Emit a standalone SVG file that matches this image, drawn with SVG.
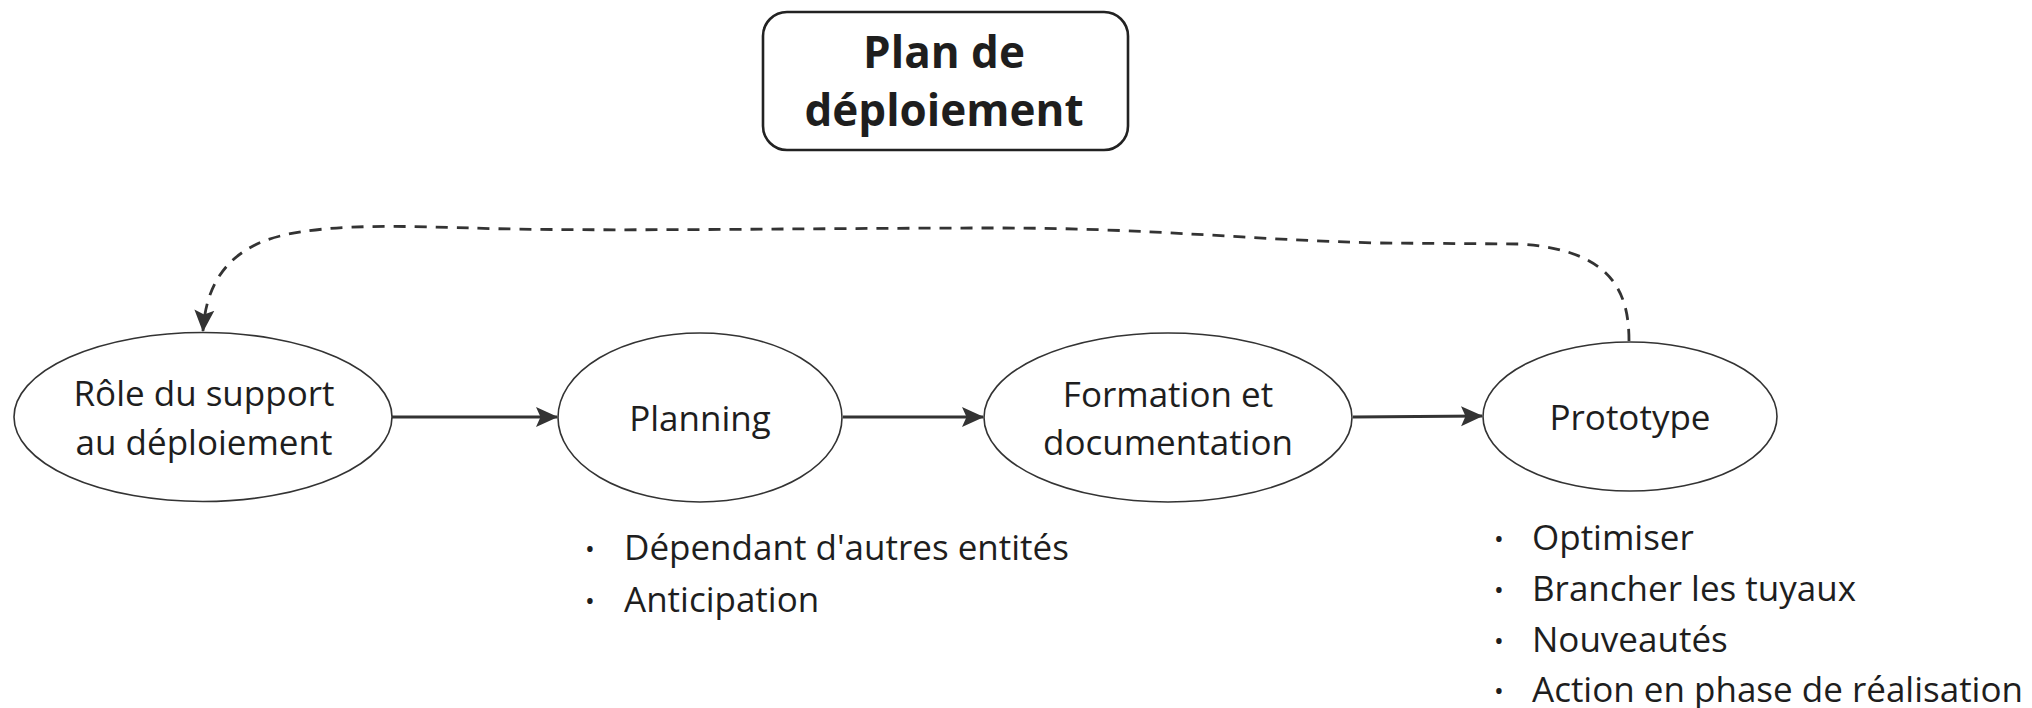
<svg xmlns="http://www.w3.org/2000/svg" width="2032" height="708" viewBox="0 0 2032 708">
<style>
.node{fill:#ffffff;stroke:#333333;stroke-width:1.6}
.lbl{font-family:"Open Sans","Noto Sans",sans-serif;font-size:35px;fill:#1e1e1e;text-anchor:middle}
.lst{font-family:"Open Sans","Noto Sans",sans-serif;font-size:35px;fill:#1e1e1e}
.bul{font-family:"Open Sans","Noto Sans",sans-serif;font-size:26px;fill:#1e1e1e;text-anchor:middle}
.title{font-family:"Open Sans","Noto Sans",sans-serif;font-size:44px;font-weight:bold;fill:#1e1e1e;text-anchor:middle}
.conn{fill:none;stroke:#333333;stroke-width:3.2}
.dash{fill:none;stroke:#333333;stroke-width:2.8;stroke-dasharray:12 9}
</style>
<defs>
<marker id="arr" viewBox="0 0 22 22" refX="21" refY="11" markerWidth="22" markerHeight="22" markerUnits="userSpaceOnUse" orient="auto">
<path d="M0,1 L22,11 L0,21 L4.5,11 Z" fill="#333333"/>
</marker>
</defs>
<rect width="2032" height="708" fill="#ffffff"/>
<g id="title">
<rect x="763" y="12" width="365" height="138" rx="24" ry="24" fill="#ffffff" stroke="#222222" stroke-width="2.6"/>
<text class="title" x="944" y="68">Plan de</text>
<text class="title" x="944" y="126">déploiement</text>
</g>
<g id="connectors">
<line class="conn" x1="392" y1="417" x2="557" y2="417" marker-end="url(#arr)"/>
<line class="conn" x1="843" y1="417" x2="983" y2="417" marker-end="url(#arr)"/>
<line class="conn" x1="1353" y1="417" x2="1482" y2="416" marker-end="url(#arr)"/>
<path class="dash" d="M1629,341 C1629,292 1612,250 1520,244 L1380,243 C1250,240 1150,228 1000,228 C800,228 600,232 470,228 C400,226 300,222 255,245 C215,265 205,300 203,331" marker-end="url(#arr)"/>
</g>
<g id="node-role">
<ellipse class="node" cx="203" cy="417" rx="189" ry="84.5"/>
<text class="lbl" x="204" y="406">Rôle du support</text>
<text class="lbl" x="204" y="455">au déploiement</text>
</g>
<g id="node-planning">
<ellipse class="node" cx="700" cy="417.5" rx="142" ry="84.5"/>
<text class="lbl" x="700" y="431">Planning</text>
</g>
<g id="node-formation">
<ellipse class="node" cx="1168" cy="417.5" rx="184" ry="84.5"/>
<text class="lbl" x="1168" y="407">Formation et</text>
<text class="lbl" x="1168" y="455">documentation</text>
</g>
<g id="node-prototype">
<ellipse class="node" cx="1630" cy="416.5" rx="147" ry="74.5"/>
<text class="lbl" x="1630" y="430">Prototype</text>
</g>
<g id="list-planning">
<text class="bul" x="590" y="558">•</text>
<text class="lst" x="624" y="560">Dépendant d'autres entités</text>
<text class="bul" x="590" y="610">•</text>
<text class="lst" x="624" y="612">Anticipation</text>
</g>
<g id="list-prototype">
<text class="bul" x="1499" y="548">•</text>
<text class="lst" x="1532" y="550">Optimiser</text>
<text class="bul" x="1499" y="599">•</text>
<text class="lst" x="1532" y="601">Brancher les tuyaux</text>
<text class="bul" x="1499" y="650">•</text>
<text class="lst" x="1532" y="652">Nouveautés</text>
<text class="bul" x="1499" y="700">•</text>
<text class="lst" x="1532" y="702">Action en phase de réalisation</text>
</g>
</svg>
